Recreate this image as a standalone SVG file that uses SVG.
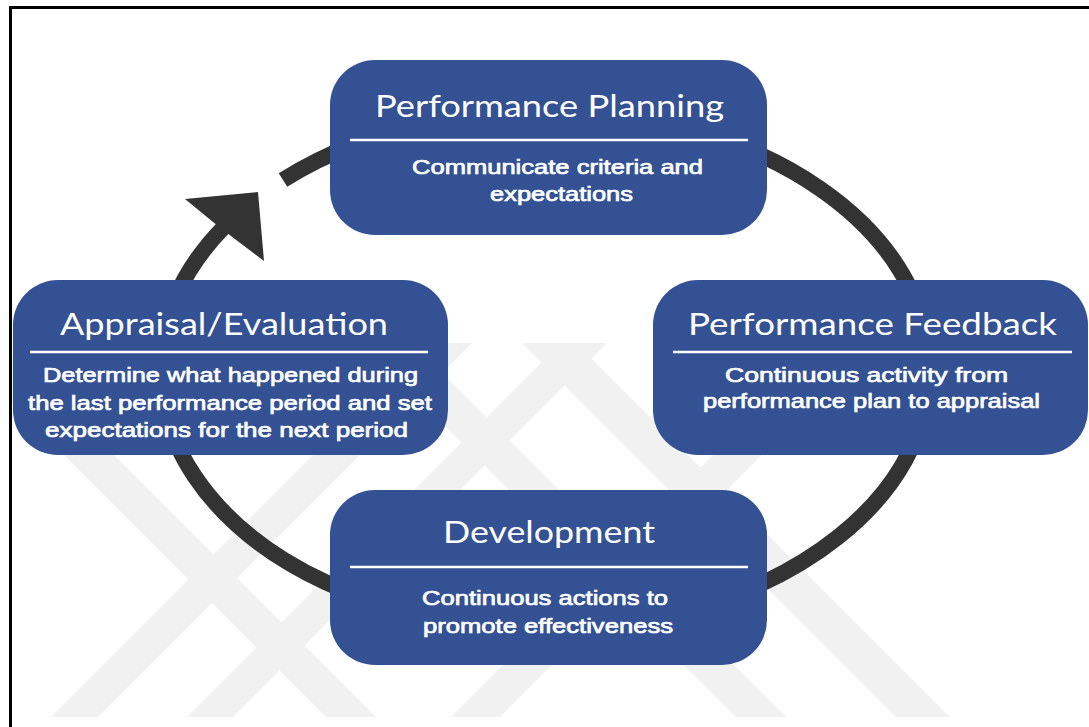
<svg xmlns="http://www.w3.org/2000/svg" width="1089" height="727" viewBox="0 0 1089 727">
  <defs>
    <style>
      .box { fill: #335193; }
      .div { stroke: #ffffff; stroke-width: 2.5; }
      .title { font-family: Lato, "Open Sans", sans-serif; font-size: 31px; fill: #ffffff; }
      .sub { font-family: "Liberation Sans", Arial, sans-serif; font-size: 20.5px; fill: #ffffff; stroke: #ffffff; stroke-width: 0.7; }
      .ring { fill: none; stroke: #333333; stroke-width: 16; }
      .wm { fill: #f1f1f1; }
    </style>
    <clipPath id="wmclip">
      <rect x="12" y="343" width="1077" height="374"/>
    </clipPath>
  </defs>

  <rect x="0" y="0" width="1089" height="727" fill="#ffffff"/>

  <g id="watermark" clip-path="url(#wmclip)">
    <polygon class="wm" points="51,717 98,717 472,343 425,343"/>
    <polygon class="wm" points="187,717 233,717 607,343 561,343"/>
    <polygon class="wm" points="451,717 500,717 874,343 825,343"/>
    <polygon class="wm" points="326,717 376,717 2,343 -48,343"/>
    <polygon class="wm" points="736,717 786,717 412,343 362,343"/>
    <polygon class="wm" points="896,717 950,717 576,343 522,343"/>
  </g>

  <rect x="10.5" y="7.5" width="1100" height="800" fill="none" stroke="#000000" stroke-width="3"/>

  <g id="connectors">
    <path class="ring" d="M 283,180 A 384.4 259 0 1 1 224,227"/>
    <polygon fill="#333333" points="185,199 258,192 264,261 231,236 213,222"/>
  </g>

  <g id="planning">
    <rect class="box" x="330" y="60" width="437" height="175" rx="45" ry="45"/>
    <text class="title" x="375" y="117" textLength="349" lengthAdjust="spacingAndGlyphs">Performance Planning</text>
    <line class="div" x1="350" y1="140" x2="748" y2="140"/>
    <text class="sub" x="412" y="173.5" textLength="291" lengthAdjust="spacingAndGlyphs">Communicate criteria and</text>
    <text class="sub" x="490" y="201" textLength="143" lengthAdjust="spacingAndGlyphs">expectations</text>
  </g>

  <g id="appraisal">
    <rect class="box" x="13" y="280" width="435" height="175" rx="45" ry="45"/>
    <text class="title" x="60" y="335" textLength="328" lengthAdjust="spacingAndGlyphs">Appraisal/Evaluation</text>
    <line class="div" x1="30" y1="352" x2="428" y2="352"/>
    <text class="sub" x="43" y="382" textLength="375" lengthAdjust="spacingAndGlyphs">Determine what happened during</text>
    <text class="sub" x="28" y="410" textLength="404" lengthAdjust="spacingAndGlyphs">the last performance period and set</text>
    <text class="sub" x="45" y="437" textLength="363" lengthAdjust="spacingAndGlyphs">expectations for the next period</text>
  </g>

  <g id="feedback">
    <rect class="box" x="653" y="280" width="435" height="175" rx="45" ry="45"/>
    <text class="title" x="688" y="335" textLength="369" lengthAdjust="spacingAndGlyphs">Performance Feedback</text>
    <line class="div" x1="673" y1="352" x2="1072" y2="352"/>
    <text class="sub" x="725" y="382" textLength="283" lengthAdjust="spacingAndGlyphs">Continuous activity from</text>
    <text class="sub" x="703" y="408" textLength="337" lengthAdjust="spacingAndGlyphs">performance plan to appraisal</text>
  </g>

  <g id="development">
    <rect class="box" x="330" y="490" width="437" height="175" rx="45" ry="45"/>
    <text class="title" x="443" y="543" textLength="212" lengthAdjust="spacingAndGlyphs">Development</text>
    <line class="div" x1="350" y1="567" x2="748" y2="567"/>
    <text class="sub" x="422" y="605" textLength="246" lengthAdjust="spacingAndGlyphs">Continuous actions to</text>
    <text class="sub" x="423" y="633" textLength="250" lengthAdjust="spacingAndGlyphs">promote effectiveness</text>
  </g>
</svg>
